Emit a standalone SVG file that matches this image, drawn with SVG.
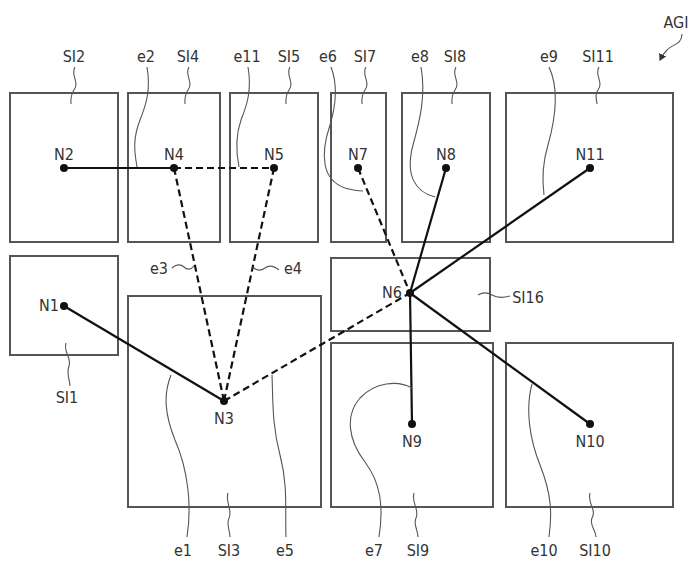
<svg xmlns="http://www.w3.org/2000/svg" width="693" height="565" viewBox="0 0 693 565">
<defs>
<style>
.box{fill:#fff;stroke:#555;stroke-width:2}
.e{stroke:#111;stroke-width:2.2;fill:none}
.d{stroke-dasharray:7,4}
.ld{stroke:#555;stroke-width:1.1;fill:none}
.dot{fill:#111}
text{font-family:"DejaVu Sans Condensed","Liberation Sans Narrow","Liberation Sans",sans-serif;font-size:16px;fill:#333;text-anchor:middle}
</style>
<marker id="ah" markerWidth="8" markerHeight="8" refX="6" refY="4" orient="auto" markerUnits="userSpaceOnUse">
<path d="M0,0 L7,4 L0,8 Z" fill="#333"/>
</marker>
</defs>
<rect width="693" height="565" fill="#fff"/>
<g id="regions">
<g id="SI2"><rect class="box" x="10" y="93" width="108" height="149"/></g>
<g id="SI4"><rect class="box" x="128" y="93" width="92" height="149"/></g>
<g id="SI5"><rect class="box" x="230" y="93" width="88" height="149"/></g>
<g id="SI7"><rect class="box" x="331" y="93" width="55" height="149"/></g>
<g id="SI8"><rect class="box" x="402" y="93" width="88" height="149"/></g>
<g id="SI11"><rect class="box" x="506" y="93" width="167" height="149"/></g>
<g id="SI1"><rect class="box" x="10" y="256" width="108" height="99"/></g>
<g id="SI3"><rect class="box" x="128" y="296" width="193" height="211"/></g>
<g id="SI16"><rect class="box" x="331" y="258" width="159" height="73"/></g>
<g id="SI9"><rect class="box" x="331" y="343" width="162" height="164"/></g>
<g id="SI10"><rect class="box" x="506" y="343" width="167" height="164"/></g>
</g>
<g id="connectors">
<line class="e" x1="64" y1="168" x2="174" y2="168"/>
<line class="e d" x1="174" y1="168" x2="274" y2="168"/>
<line class="e d" x1="174" y1="168" x2="224" y2="401"/>
<line class="e d" x1="274" y1="168" x2="224" y2="401"/>
<line class="e" x1="64" y1="306" x2="224" y2="401"/>
<line class="e d" x1="224" y1="401" x2="410" y2="293"/>
<line class="e d" x1="358" y1="168" x2="410" y2="293"/>
<line class="e" x1="446" y1="168" x2="410" y2="293"/>
<line class="e" x1="590" y1="168" x2="410" y2="293"/>
<line class="e" x1="410" y1="293" x2="412" y2="424"/>
<line class="e" x1="410" y1="293" x2="590" y2="424"/>
</g>
<g id="nodes">
<g id="N1"><circle class="dot" cx="64" cy="306" r="4"/><text x="49" y="311">N1</text></g>
<g id="N2"><circle class="dot" cx="64" cy="168" r="4"/><text x="64" y="160">N2</text></g>
<g id="N3"><circle class="dot" cx="224" cy="401" r="4"/><text x="224" y="424">N3</text></g>
<g id="N4"><circle class="dot" cx="174" cy="168" r="4"/><text x="174" y="160">N4</text></g>
<g id="N5"><circle class="dot" cx="274" cy="168" r="4"/><text x="274" y="160">N5</text></g>
<g id="N6"><circle class="dot" cx="410" cy="293" r="4"/><text x="392" y="298">N6</text></g>
<g id="N7"><circle class="dot" cx="358" cy="168" r="4"/><text x="358" y="160">N7</text></g>
<g id="N8"><circle class="dot" cx="446" cy="168" r="4"/><text x="446" y="160">N8</text></g>
<g id="N9"><circle class="dot" cx="412" cy="424" r="4"/><text x="412" y="447">N9</text></g>
<g id="N10"><circle class="dot" cx="590" cy="424" r="4"/><text x="590" y="447">N10</text></g>
<g id="N11"><circle class="dot" cx="590" cy="168" r="4"/><text x="590" y="160">N11</text></g>
</g>
<g id="labels">
<text x="74" y="62">SI2</text>
<text x="146" y="62">e2</text>
<text x="188" y="62">SI4</text>
<text x="247" y="62">e11</text>
<text x="289" y="62">SI5</text>
<text x="328" y="62">e6</text>
<text x="365" y="62">SI7</text>
<text x="420" y="62">e8</text>
<text x="455" y="62">SI8</text>
<text x="549" y="62">e9</text>
<text x="598" y="62">SI11</text>
<text x="676" y="28">AGI</text>
<text x="159" y="274">e3</text>
<text x="293" y="274">e4</text>
<text x="528" y="303">SI16</text>
<text x="67" y="403">SI1</text>
<text x="183" y="556">e1</text>
<text x="229" y="556">SI3</text>
<text x="285" y="556">e5</text>
<text x="374" y="556">e7</text>
<text x="418" y="556">SI9</text>
<text x="544" y="556">e10</text>
<text x="595" y="556">SI10</text>
</g>
<g id="leaders">
<path class="ld" d="M75,67 C70,75 80,82 74,90 C70,96 71,100 71,104"/>
<path class="ld" d="M189,67 C184,75 194,82 188,90 C184,96 185,100 185,104"/>
<path class="ld" d="M290,67 C285,75 295,82 289,90 C285,96 286,100 286,104"/>
<path class="ld" d="M366,67 C361,75 371,82 365,90 C361,96 362,100 362,104"/>
<path class="ld" d="M456,67 C451,75 461,82 455,90 C451,96 452,100 452,104"/>
<path class="ld" d="M599,67 C594,75 604,82 598,90 C594,96 597,100 597,104"/>
<path class="ld" d="M147,67 C151,90 146,105 140,120 C133,138 134,150 137,167"/>
<path class="ld" d="M248,67 C252,90 247,105 241,120 C235,137 236,152 239,167"/>
<path class="ld" d="M331,67 C338,85 336,105 330,125 C320,155 322,180 345,188 C352,190 358,191 363,191"/>
<path class="ld" d="M421,67 C426,95 420,120 413,145 C405,175 415,192 435,197"/>
<path class="ld" d="M549,67 C560,90 555,120 548,145 C542,165 542,180 544,195"/>
<path class="ld" d="M682,34 C682,45 672,44 667,50 C663,54 662,56 660,60" marker-end="url(#ah)"/>
<path class="ld" d="M172,268 C176,264 181,264 184,267 C187,270 191,270 194,266"/>
<path class="ld" d="M253,267 C257,271 261,271 265,268 C269,265 274,266 279,270"/>
<path class="ld" d="M478,295 C483,292 487,292 492,295 C497,298 503,298 510,296"/>
<path class="ld" d="M66,343 C63,352 72,358 69,366 C66,374 70,380 70,386"/>
<path class="ld" d="M171,375 C163,395 165,415 175,440 C188,470 192,505 187,537"/>
<path class="ld" d="M228,493 C225,503 233,510 229,518 C226,525 230,530 230,537"/>
<path class="ld" d="M272,375 C273,400 272,425 280,455 C288,485 285,510 286,537"/>
<path class="ld" d="M412,388 C398,380 375,382 360,398 C345,415 348,440 365,462 C380,482 384,505 379,537"/>
<path class="ld" d="M414,493 C411,503 420,510 416,518 C413,525 418,530 418,537"/>
<path class="ld" d="M532,384 C525,410 530,440 540,465 C552,495 552,515 549,537"/>
<path class="ld" d="M590,493 C587,503 597,510 592,518 C589,525 596,530 596,537"/>
</g>
</svg>
